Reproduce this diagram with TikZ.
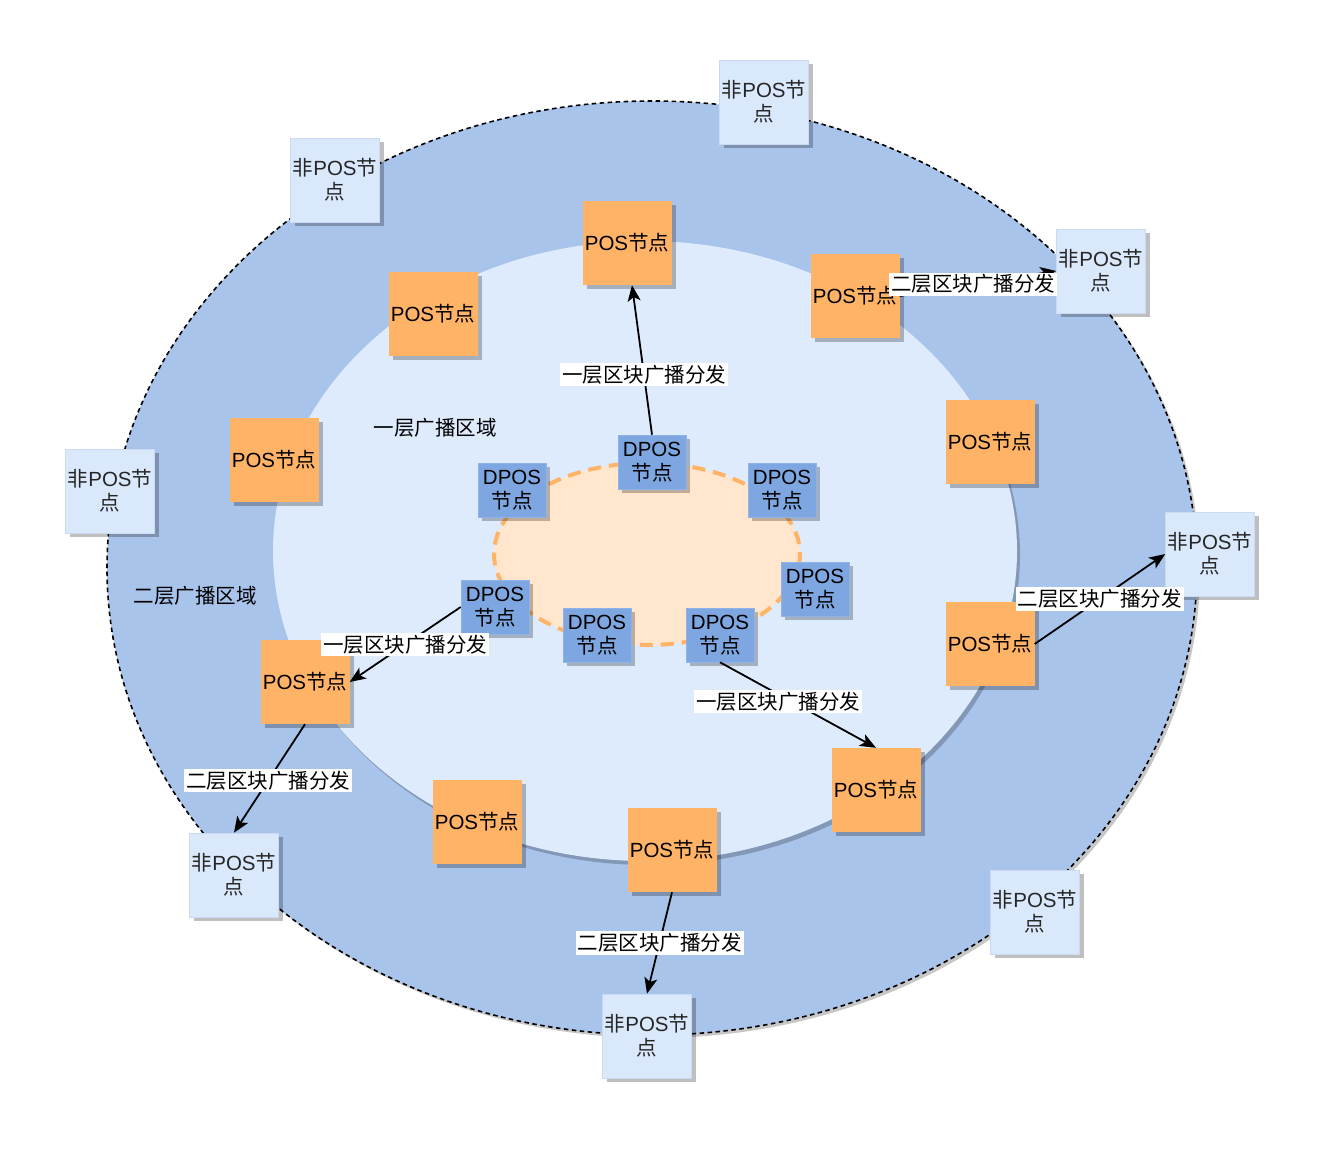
\documentclass[tikz,border=0pt]{standalone}
\usepackage{fontspec}
\setmainfont{Liberation Sans}
\newfontfamily\cjk{Noto Sans CJK SC}
\usetikzlibrary{arrows.meta,shadows}
\definecolor{outerfill}{HTML}{A9C4EB}
\definecolor{innerfill}{HTML}{DEEBFD}
\definecolor{corefill}{HTML}{FFE6CC}
\definecolor{coreline}{HTML}{FFB366}
\definecolor{posfill}{HTML}{FFB366}
\definecolor{dposfill}{HTML}{7EA6E0}
\definecolor{dposline}{HTML}{8FB2E8}
\definecolor{npfill}{HTML}{DAE8FC}
\definecolor{npline}{HTML}{C9DAF2}
\newcommand{\myJD}{{\cjk 节点}}
\newcommand{\myNP}{{\cjk 非}POS{\cjk 节}\\{\cjk 点}}
\begin{document}
\begin{tikzpicture}[x=1pt,y=-1pt,
  font=\fontsize{20.5}{24}\selectfont,
  shd/.style={drop shadow={shadow xshift=4pt,shadow yshift=-4pt,fill=black,opacity=0.25}},
  posbox/.style={fill=posfill,minimum width=89pt,minimum height=84pt,inner sep=0pt,align=center,shd},
  dposbox/.style={fill=dposfill,draw=dposline,line width=0.6pt,minimum width=68pt,minimum height=54pt,inner sep=0pt,align=center,shd},
  npbox/.style={fill=npfill,draw=npline,line width=0.6pt,minimum width=89pt,minimum height=84pt,inner sep=0pt,align=center,text=black!85,shd},
  lbl/.style={fill=white,inner sep=2pt,font=\fontsize{20.5}{24}\selectfont\cjk},
  arr/.style={line width=1.8pt,-{Stealth[length=16pt,width=13pt,inset=4pt]}},
  region/.style={font=\fontsize{20.5}{24}\selectfont\cjk}
]
\useasboundingbox (0,0) rectangle (1344,1156);
% outer ellipse
\fill[black,opacity=0.22] (655,571) ellipse [x radius=545, y radius=467];
\fill[outerfill] (652,568) ellipse [x radius=545, y radius=467];
\draw[black,line width=1.6pt,dash pattern=on 4.5pt off 3.5pt] (652,568) ellipse [x radius=545, y radius=467];
% inner ellipse
\fill[black,opacity=0.22] (648,555) ellipse [x radius=372, y radius=310];
\fill[innerfill] (645,551) ellipse [x radius=372, y radius=310];
% core ellipse
\fill[corefill] (647,554) ellipse [x radius=153, y radius=91];
\draw[coreline,line width=4pt,dash pattern=on 13pt off 8pt] (647,554) ellipse [x radius=153, y radius=91];

% region labels
\node[region] (r1) at (435,428) {一层广播区域};
\node[region] (r2) at (195,596) {二层广播区域};

% POS nodes
\node[posbox] (p1) at (627,243) {POS\myJD};
\node[posbox] (p2) at (433,314) {POS\myJD};
\node[posbox] (p3) at (855,296) {POS\myJD};
\node[posbox] (p4) at (990,442) {POS\myJD};
\node[posbox] (p5) at (274,460) {POS\myJD};
\node[posbox] (p6) at (990,644) {POS\myJD};
\node[posbox] (p7) at (305,682) {POS\myJD};
\node[posbox] (p8) at (876,790) {POS\myJD};
\node[posbox] (p9) at (477,822) {POS\myJD};
\node[posbox] (p10) at (672,850) {POS\myJD};

% non-POS nodes
\node[npbox] (n1) at (764,102) {\myNP};
\node[npbox] (n2) at (335,180) {\myNP};
\node[npbox] (n3) at (1101,271) {\myNP};
\node[npbox] (n4) at (110,491) {\myNP};
\node[npbox] (n5) at (1210,554) {\myNP};
\node[npbox] (n6) at (234,875) {\myNP};
\node[npbox] (n7) at (1035,912) {\myNP};
\node[npbox] (n8) at (647,1036) {\myNP};

% DPOS nodes
\node[dposbox] (d1) at (652,462) {DPOS\\\myJD};
\node[dposbox] (d2) at (512,490) {DPOS\\\myJD};
\node[dposbox] (d3) at (782,490) {DPOS\\\myJD};
\node[dposbox] (d4) at (815,589) {DPOS\\\myJD};
\node[dposbox] (d5) at (495,607) {DPOS\\\myJD};
\node[dposbox] (d6) at (597,635) {DPOS\\\myJD};
\node[dposbox] (d7) at (720,635) {DPOS\\\myJD};

% first-layer broadcast
\draw[arr] (d1.north) -- node[lbl,pos=0.4] {一层区块广播分发} ([xshift=5pt]p1.south);
\draw[arr] (d5.west) -- node[lbl,pos=0.5] {一层区块广播分发} (p7.east);
\draw[arr] (d7.south) -- node[lbl,pos=0.4,xshift=-4pt,yshift=-5pt] {一层区块广播分发} (p8.north);

% second-layer broadcast
\draw[arr] (p3.east) -- node[lbl,pos=0.47] {二层区块广播分发} (n3.west);
\draw[arr] (p6.east) -- node[lbl,pos=0.5] {二层区块广播分发} (n5.west);
\draw[arr] (p7.south) -- node[lbl,pos=0.52] {二层区块广播分发} (n6.north);
\draw[arr] (p10.south) -- node[lbl,pos=0.5] {二层区块广播分发} (n8.north);
\end{tikzpicture}
\end{document}
